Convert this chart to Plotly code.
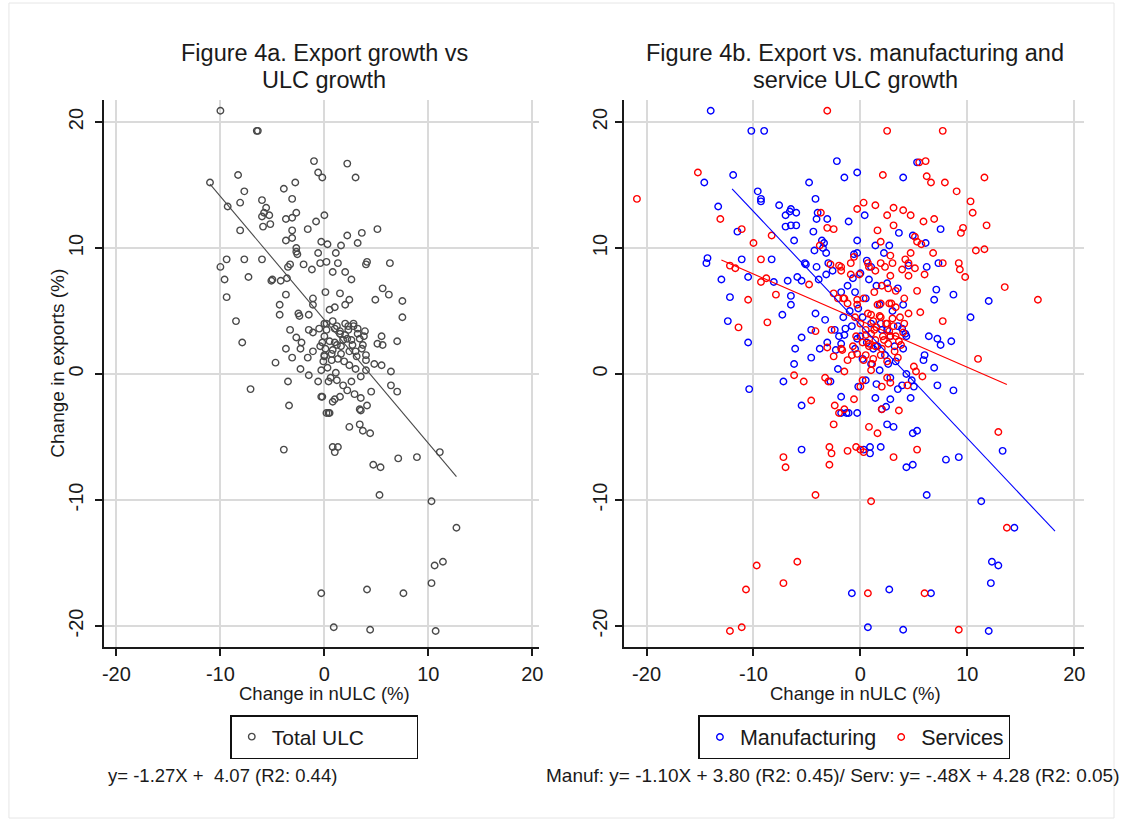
import plotly.graph_objects as go

# ---------------- data ----------------
total_points = [
    (-10.0, 20.9), (-6.5, 19.3), (-6.4, 19.3), (-1.0, 16.9), (-0.6, 16.0), (-0.2, 15.6),
    (-11.0, 15.2), (-8.3, 15.8), (-7.7, 14.5), (-8.1, 13.6), (-9.3, 13.3), (-3.9, 14.7),
    (-2.8, 15.2), (-3.1, 13.9), (-6.0, 13.8), (-5.6, 13.2), (-5.8, 12.8), (-6.0, 12.5),
    (-5.3, 12.6), (-3.7, 12.3), (-3.1, 12.4), (-2.7, 12.8), (-5.2, 11.9), (-5.9, 11.7),
    (-8.1, 11.4), (-3.1, 11.4), (-1.6, 11.5), (-0.8, 12.1), (0.0, 12.6), (-3.7, 10.6),
    (-3.1, 10.8), (-2.7, 10.0), (-2.7, 9.7), (-2.6, 9.5), (-0.6, 9.6), (-0.3, 10.5),
    (0.3, 10.3), (-10.0, 8.5), (-9.4, 9.1), (-7.7, 9.1), (-6.0, 9.1), (-3.5, 8.5),
    (-3.3, 8.7), (-2.0, 8.7), (-1.2, 8.3), (-0.4, 8.8), (0.2, 8.9),
    (2.2, 16.7), (3.0, 15.6), (5.1, 11.5), (3.6, 11.2), (2.2, 11.0), (3.2, 10.4),
    (1.6, 10.2), (1.1, 9.6), (6.3, 8.8), (4.0, 8.7), (4.1, 8.9), (1.3, 8.8),
    (2.0, 8.1), (2.6, 7.5), (0.8, 8.1), (0.1, 6.5), (5.6, 6.8), (6.2, 6.3), (4.9, 5.9),
    (7.5, 5.8), (7.5, 4.5), (1.5, 6.4), (2.4, 5.9), (2.0, 5.5), (1.0, 5.3), (0.5, 5.1),
    (5.5, 3.0), (5.6, 2.3), (5.1, 2.4), (7.0, 2.6), (5.5, 0.7), (6.4, 0.2), (4.8, 0.8),
    (6.4, -0.9), (7.0, -1.4), (4.5, -1.4), (0.6, -0.3), (1.2, -0.5), (1.8, -0.9),
    (2.6, -0.6), (1.0, -2.0), (1.5, -1.8), (0.8, -2.2), (3.4, -2.8), (3.5, -2.9),
    (0.4, -3.1), (0.5, -3.1), (-0.2, -1.8), (2.4, -4.2), (3.4, -4.0), (3.7, -4.5),
    (4.4, -4.7), (0.8, -5.8), (1.3, -5.8), (1.0, -6.2), (7.1, -6.7), (8.9, -6.6),
    (11.1, -6.2), (-3.9, -6.0), (4.7, -7.2), (5.4, -7.4), (5.3, -9.6), (10.3, -10.1),
    (12.7, -12.2), (11.4, -14.9), (10.6, -15.2), (10.3, -16.6), (-0.3, -17.4),
    (4.1, -17.1), (7.6, -17.4), (0.9, -20.1), (4.4, -20.3), (10.7, -20.4),
    (-9.6, 7.5), (-7.3, 7.7), (-5.1, 7.4), (-5.0, 7.5), (-4.2, 7.4), (-3.6, 7.6),
    (-9.4, 6.1), (-3.7, 6.3), (-4.3, 5.5), (-4.3, 4.7), (-8.5, 4.2), (-2.5, 4.8),
    (-2.4, 4.6), (-1.5, 4.7), (-1.1, 5.5), (-1.1, 6.0), (-7.9, 2.5), (-3.3, 3.5),
    (-2.7, 2.9), (-2.2, 2.5), (-1.5, 3.5), (-1.1, 3.3), (-3.7, 2.0), (-3.1, 1.3),
    (-2.3, 2.0), (-1.6, 1.3), (-1.1, 1.8), (-4.7, 0.9), (-2.3, 0.4), (-1.5, -0.1),
    (-0.6, -0.6), (-3.5, -0.6), (-7.1, -1.2), (-0.3, -1.8), (-3.4, -2.5), (0.2, -3.1),
    (0.0, 4.0), (0.2, 3.5), (0.0, 3.0), (-0.2, 2.5), (0.1, 2.0), (0.0, 1.5), (-0.1, 1.0),
    (0.3, 0.5), (0.8, 4.2), (1.2, 3.8), (1.5, 3.2), (2.0, 4.0), (2.3, 3.5), (2.8, 3.8),
    (3.2, 3.2), (3.8, 3.0), (1.0, 2.5), (1.6, 2.2), (2.2, 2.8), (2.7, 2.3), (3.0, 1.8),
    (3.6, 2.0), (4.0, 1.5), (0.7, 1.6), (1.3, 1.2), (1.9, 1.0), (2.4, 0.7), (3.0, 0.4),
    (3.5, -0.2), (4.0, 0.3), (1.1, 0.1), (0.4, -0.6), (2.2, -1.3), (2.9, -1.6),
    (3.5, -1.9), (4.1, -2.5),
    (0.2, 4.0), (1.0, 3.6), (1.5, 3.4), (2.0, 3.1), (2.8, 4.0), (2.3, 3.8), (3.2, 3.6),
    (3.9, 3.4), (0.5, 2.6), (1.2, 2.3), (1.8, 2.7), (2.6, 2.7), (3.4, 2.8), (3.7, 2.3),
    (0.8, 1.9), (1.6, 1.6), (2.4, 1.8), (3.1, 1.4), (4.0, 1.1), (0.7, 1.1), (0.0, 1.4),
    (-0.4, 2.2), (-0.5, 3.6), (-0.3, 0.3),
]

manuf_points = [
    (-14.0, 20.9), (-10.2, 19.3), (-9.0, 19.3), (-2.2, 16.9), (-1.5, 15.6), (-11.9, 15.8),
    (-14.6, 15.2), (-9.6, 14.5), (-9.3, 13.7), (-9.3, 13.9), (-13.3, 13.3), (-7.6, 13.4),
    (-6.5, 13.1), (-7.0, 12.6), (-6.0, 12.8), (-6.6, 12.9), (-4.8, 15.2), (-4.2, 13.9),
    (-4.0, 12.8), (-4.1, 12.3), (-3.1, 12.3), (-7.0, 11.7), (-6.5, 11.8), (-6.0, 11.8),
    (-11.5, 11.3), (-4.4, 11.3), (-6.2, 10.6), (-3.6, 10.6), (-3.4, 10.4), (-4.3, 9.8),
    (-3.2, 9.6), (-3.5, 10.0), (-14.3, 9.2), (-14.4, 8.8), (-11.1, 9.1), (-8.3, 9.1),
    (-5.2, 8.8), (-5.1, 8.7), (-4.1, 8.5),
    (5.3, 16.8), (-0.3, 16.0), (4.0, 15.6), (0.4, 12.6), (-1.1, 12.1), (7.5, 11.5),
    (3.6, 11.2), (4.9, 11.0), (6.1, 10.4), (-0.3, 10.6), (1.4, 10.2), (2.7, 10.2),
    (-0.6, 9.5), (-0.3, 9.6), (2.2, 9.6), (7.3, 8.8), (6.2, 8.5), (4.5, 8.6),
    (-13.0, 7.5), (-10.5, 7.7), (-8.1, 7.3), (-6.8, 7.4), (-5.9, 7.7), (-5.5, 7.4),
    (-12.2, 6.1), (-6.5, 6.2), (-6.5, 5.5), (-7.3, 4.7), (-12.4, 4.2), (-4.2, 4.8),
    (-3.3, 4.3), (-4.6, 3.5), (-5.5, 2.9), (-10.5, 2.5), (-6.1, 2.0), (-4.6, 1.3),
    (-3.8, 2.0), (-3.1, 2.5), (-6.2, 0.8), (-7.2, -0.6), (-10.4, -1.2), (-5.5, -2.5),
    (-5.5, -6.0), (-1.8, -1.8), (-2.8, -0.6), (-2.1, 0.4), (-1.3, -3.1), (-2.4, 3.5),
    (-1.5, 3.1), (-1.8, 2.4), (-2.3, 1.9), (-3.9, 7.5), (-3.2, 7.9), (-2.6, 8.2),
    (-3.0, 8.8),
    (12.0, 5.8), (10.3, 4.5), (8.7, 6.3), (7.1, 6.7), (6.9, 5.9), (6.4, 3.0), (7.2, 2.8),
    (7.5, 2.3), (8.5, 2.6), (6.9, 0.5), (5.9, 1.1), (6.0, 1.5), (7.2, -0.9), (8.7, -1.3),
    (4.8, -0.5), (5.0, -1.0), (4.7, -1.9), (4.3, 0.0), (3.9, -0.9), (2.8, -2.0),
    (2.4, -2.6), (1.4, -1.9), (2.0, -2.8), (2.5, -4.0), (3.1, -4.2), (4.9, -4.7),
    (5.3, -4.5), (1.9, -5.8), (-1.8, -3.1), (-1.1, -3.1), (-0.3, -3.1),
    (0.3, -6.0), (0.9, -5.8), (0.9, -6.3), (4.3, -7.4), (4.9, -7.2), (8.0, -6.8),
    (9.2, -6.6), (13.3, -6.1), (6.2, -9.6), (11.3, -10.1), (14.4, -12.2), (12.3, -14.9),
    (12.9, -15.2), (12.2, -16.6), (-0.8, -17.4), (2.7, -17.1), (6.6, -17.4),
    (0.7, -20.1), (4.0, -20.3), (12.0, -20.4),
    (0.0, 8.0), (0.8, 7.5), (1.5, 7.0), (2.5, 7.2), (3.5, 6.8), (-0.5, 6.5), (0.5, 6.0),
    (1.8, 5.5), (3.0, 5.0), (4.0, 5.5), (-1.0, 5.0), (0.2, 4.5), (1.0, 4.0), (2.0, 3.5),
    (2.8, 3.0), (3.5, 3.8), (4.3, 3.0), (-0.8, 3.8), (0.0, 3.0), (0.6, 2.5), (1.2, 2.0),
    (2.3, 1.5), (3.2, 2.2), (4.0, 2.0), (-0.5, 2.0), (0.2, 1.2), (1.0, 0.8), (1.8, 0.3),
    (2.6, 0.8), (3.3, 1.0), (0.5, -0.5), (1.5, -0.8), (2.8, -0.3), (3.5, -1.2),
    (-0.2, -1.0),
    (1.9, 4.0), (2.5, 3.5), (3.9, 3.6), (4.2, 3.2), (1.6, 2.2), (-0.3, 2.8), (-1.4, 3.6),
    (-2.0, 3.0), (-1.2, 7.0), (-0.7, 7.6), (-1.8, 6.5), (-0.2, 5.2), (0.6, 9.0),
    (1.0, 8.5), (-1.6, 4.5),
]

serv_points = [
    (-3.1, 20.9), (-15.2, 16.0), (-20.9, 13.9), (-13.1, 12.3), (-11.1, 11.5), (-8.3, 11.0),
    (-10.0, 10.4), (-9.3, 9.1), (-3.7, 12.8), (-3.1, 11.6), (-2.5, 11.5), (-3.8, 10.2),
    (-2.8, 8.7), (-1.8, 8.5), (-12.2, 8.6), (-11.7, 8.4),
    (2.5, 19.3), (7.7, 19.3), (6.1, 16.9), (5.5, 16.8), (2.1, 15.8), (6.2, 15.7),
    (6.6, 15.2), (7.9, 15.2), (9.0, 14.5), (11.6, 15.6), (10.3, 13.7), (10.5, 12.8),
    (11.8, 11.8), (9.6, 11.6), (9.4, 11.2), (10.8, 9.8), (11.6, 9.9), (0.3, 13.6),
    (-0.3, 13.1), (1.4, 13.4), (3.1, 13.2), (4.0, 13.0), (4.7, 12.6), (2.5, 12.6),
    (5.9, 12.1), (6.9, 12.3), (3.1, 11.8), (1.6, 11.4), (5.1, 10.9), (5.3, 10.5),
    (5.7, 10.3), (1.9, 10.5), (6.8, 9.6), (4.7, 9.6), (4.2, 9.1), (4.5, 8.8), (2.8, 9.4),
    (3.0, 8.8), (-0.6, 9.3), (-0.9, 8.8), (0.7, 8.8), (1.9, 8.8), (7.7, 8.8), (9.2, 8.8),
    (-2.0, 8.6),
    (-9.3, 7.3), (-8.8, 7.6), (-10.5, 5.9), (-7.9, 6.3), (-11.4, 3.7), (-8.7, 4.1),
    (-4.8, 7.1), (-4.2, 3.4), (-2.7, 3.5), (-3.1, 2.1), (-2.5, 1.4), (-1.8, 2.0),
    (-6.2, -0.1), (-5.3, -0.6), (-3.3, -0.3), (-3.0, -0.6), (-4.6, -2.1), (-2.4, -2.5),
    (-2.0, -3.1), (-2.5, -4.0), (-2.9, -5.8), (-2.7, -6.3), (-7.2, -6.6), (-2.5, 6.4),
    (-1.6, 6.0),
    (13.5, 6.9), (16.6, 5.9), (7.7, 4.2), (11.0, 1.2), (5.6, 4.9), (5.3, 6.6), (9.3, 8.3),
    (9.8, 7.7), (12.9, -4.6), (5.3, -6.0), (3.1, -6.6), (0.8, -4.2), (1.6, -4.7),
    (-1.2, -6.1), (-0.4, -5.8), (0.0, -6.0), (0.3, -6.2), (-0.6, -2.0), (-1.5, -2.8),
    (2.0, -2.8), (3.6, -2.9), (4.4, -0.9), (5.2, 0.2), (5.8, -0.2), (5.0, 0.6),
    (2.5, -0.3), (2.8, -0.7), (2.0, -1.0), (0.0, -1.0), (0.2, -0.5), (1.0, 0.3),
    (-1.5, 0.2), (3.7, 4.5), (4.5, 4.8), (4.1, 4.0), (2.0, 7.0), (2.6, 6.8), (3.3, 6.6),
    (2.8, 7.8), (3.9, 8.3), (4.5, 7.8), (5.1, 8.4), (6.0, 7.9), (-1.5, 6.0), (-2.1, 6.0),
    (0.3, 6.0), (-0.3, 5.5), (-1.8, 8.2), (-0.9, 7.9), (-0.1, 7.9), (0.8, 8.5),
    (1.4, 8.2), (2.3, 8.5),
    (-7.0, -7.4), (-2.9, -7.2), (-4.2, -9.6), (1.0, -10.1), (13.7, -12.2), (-9.7, -15.2),
    (-5.9, -14.9), (-10.7, -17.1), (-7.2, -16.6), (0.7, -17.4), (6.0, -17.4),
    (-12.2, -20.4), (-11.1, -20.1), (9.2, -20.3),
    (0.7, 4.8), (1.2, 4.2), (1.8, 4.6), (2.4, 4.0), (3.0, 4.4), (0.5, 3.5), (1.0, 3.2),
    (1.5, 3.7), (2.1, 3.0), (2.7, 3.4), (3.3, 3.0), (4.0, 3.3), (0.2, 2.5), (0.8, 2.2),
    (1.4, 2.7), (2.0, 2.0), (2.6, 2.4), (3.2, 1.8), (3.8, 2.3), (0.5, 1.5), (1.2, 1.2),
    (1.9, 1.5), (2.5, 1.0), (3.5, 1.3), (-0.4, 3.0), (-0.8, 1.5), (0.0, 4.0),
    (-0.5, 4.5), (1.6, 5.5), (2.9, 5.6), (4.1, 6.0),
    (-0.3, 5.9), (-1.2, 5.6), (1.3, 6.5), (1.9, 5.6), (2.7, 5.6), (3.3, 5.3), (1.0, 4.7),
    (1.9, 4.5), (2.5, 4.0), (3.1, 3.8), (1.3, 3.5), (0.5, 3.1), (0.8, 2.4), (1.4, 2.2),
    (2.2, 2.7), (2.8, 3.0), (3.6, 2.6), (-0.3, 1.6), (0.3, 1.1), (1.1, 0.8), (-1.2, 1.1),
    (-1.7, 1.9), (-0.7, 2.2),
]

# fitted lines as drawn: slope, intercept, x-span
fit_total = {"slope": -0.98, "intercept": 4.3, "x_from": -11.0, "x_to": 12.7}
fit_manuf = {"slope": -0.90, "intercept": 3.9, "x_from": -12.0, "x_to": 18.2}
fit_serv = {"slope": -0.37, "intercept": 4.24, "x_from": -13.0, "x_to": 13.7}

tick_vals = [-20, -10, 0, 10, 20]
tick_text = ["-20", "-10", "0", "10", "20"]

titles = [["Figure 4a. Export growth vs", "ULC growth"],
          ["Figure 4b. Export vs. manufacturing and", "service ULC growth"]]
x_title = "Change in nULC (%)"
y_title = "Change in exports (%)"
series_names = ["Total ULC", "Manufacturing", "Services"]
notes = ["y= -1.27X +  4.07 (R2: 0.44)",
         "Manuf: y= -1.10X + 3.80 (R2: 0.45)/ Serv: y= -.48X + 4.28 (R2: 0.05)"]

# ---------------- figure ----------------
W, H = 1125, 821
FONT = "Arial, Liberation Sans, sans-serif"


def px_x(p):
    return p / W


def px_y(p):
    return 1 - p / H


def line_pts(fit):
    xs = [fit["x_from"], fit["x_to"]]
    return xs, [fit["intercept"] + fit["slope"] * x for x in xs]


def unzip(pts):
    return [p[0] for p in pts], [p[1] for p in pts]


fig = go.Figure()

tx, ty = unzip(total_points)
mx, my = unzip(manuf_points)
sx, sy = unzip(serv_points)

marker_common = dict(symbol="circle-open", size=6.5)

fig.add_trace(go.Scatter(x=tx, y=ty, mode="markers", name=series_names[0],
                         marker=dict(**marker_common, color="#4a4a4a", line=dict(width=1.4, color="#4a4a4a")),
                         xaxis="x", yaxis="y", legend="legend"))
lx, ly = line_pts(fit_total)
fig.add_trace(go.Scatter(x=lx, y=ly, mode="lines", line=dict(color="#4a4a4a", width=1.1),
                         showlegend=False, xaxis="x", yaxis="y"))

fig.add_trace(go.Scatter(x=mx, y=my, mode="markers", name=series_names[1],
                         marker=dict(**marker_common, color="#0000ff", line=dict(width=1.4, color="#0000ff")),
                         xaxis="x2", yaxis="y2", legend="legend2"))
fig.add_trace(go.Scatter(x=sx, y=sy, mode="markers", name=series_names[2],
                         marker=dict(**marker_common, color="#ff0000", line=dict(width=1.4, color="#ff0000")),
                         xaxis="x2", yaxis="y2", legend="legend2"))
lx, ly = line_pts(fit_manuf)
fig.add_trace(go.Scatter(x=lx, y=ly, mode="lines", line=dict(color="#0000ff", width=1.1),
                         showlegend=False, xaxis="x2", yaxis="y2"))
lx, ly = line_pts(fit_serv)
fig.add_trace(go.Scatter(x=lx, y=ly, mode="lines", line=dict(color="#ff0000", width=1.1),
                         showlegend=False, xaxis="x2", yaxis="y2"))

axis_common = dict(
    tickvals=tick_vals, ticktext=tick_text, showgrid=True, gridcolor="#dadada", gridwidth=2,
    zeroline=False, showline=True, linecolor="#1a1a1a", linewidth=2, ticks="outside",
    ticklen=7, tickwidth=2, tickcolor="#1a1a1a", mirror=False,
    tickfont=dict(family=FONT, size=20, color="#1a1a1a"),
)

y_dom = [px_y(647), px_y(100)]
fig.update_layout(
    width=W, height=H, margin=dict(l=0, r=0, t=0, b=0),
    paper_bgcolor="white", plot_bgcolor="white",
    font=dict(family=FONT, color="#1a1a1a"),
    xaxis=dict(domain=[px_x(103), px_x(540)], range=[-21.15, 20.65], anchor="y",
               ticklabelstandoff=1, **axis_common),
    yaxis=dict(domain=y_dom, range=[-21.67, 21.75], anchor="x", tickangle=-90,
               ticklabelstandoff=4, **axis_common),
    xaxis2=dict(domain=[px_x(625), px_x(1088)], range=[-22.14, 20.93], anchor="y2",
                ticklabelstandoff=1, **axis_common),
    yaxis2=dict(domain=y_dom, range=[-21.67, 21.75], anchor="x2", tickangle=-90,
                ticklabelstandoff=0, **axis_common),
    legend=dict(x=px_x(324), y=px_y(737), xanchor="center", yanchor="middle",
                orientation="h", bordercolor="#111", borderwidth=1.5, bgcolor="white",
                font=dict(family=FONT, size=21, color="#1a1a1a"), itemsizing="trace",
                entrywidth=140, entrywidthmode="pixels"),
    legend2=dict(x=px_x(857), y=px_y(737), xanchor="center", yanchor="middle",
                 orientation="h", bordercolor="#111", borderwidth=1.5, bgcolor="white",
                 font=dict(family=FONT, size=21.5, color="#1a1a1a"), itemsizing="trace"),
    showlegend=True,
)

ann = []
title_cx = [324, 858]
for cx, (l1, l2) in zip(title_cx, titles):
    ann.append(dict(text=l1, x=px_x(cx), y=px_y(53), xref="paper", yref="paper",
                    xanchor="center", yanchor="middle", showarrow=False,
                    font=dict(family=FONT, size=23.5, color="#1a1a1a")))
    ann.append(dict(text=l2, x=px_x(cx), y=px_y(80), xref="paper", yref="paper",
                    xanchor="center", yanchor="middle", showarrow=False,
                    font=dict(family=FONT, size=23.5, color="#1a1a1a")))
for cx in [324, 858]:
    ann.append(dict(text=x_title, x=px_x(cx), y=px_y(693), xref="paper", yref="paper",
                    xanchor="center", yanchor="middle", showarrow=False,
                    font=dict(family=FONT, size=18.5, color="#1a1a1a")))
ann.append(dict(text=y_title, x=px_x(55), y=px_y(363), xref="paper", yref="paper",
                xanchor="center", yanchor="middle", showarrow=False, textangle=-90,
                font=dict(family=FONT, size=19, color="#1a1a1a")))
ann.append(dict(text=notes[0], x=px_x(105), y=px_y(775), xref="paper", yref="paper",
                xanchor="left", yanchor="middle", showarrow=False,
                font=dict(family=FONT, size=18.5, color="#1a1a1a")))
ann.append(dict(text=notes[1], x=px_x(545), y=px_y(775), xref="paper", yref="paper",
                xanchor="left", yanchor="middle", showarrow=False,
                font=dict(family=FONT, size=19, color="#1a1a1a")))
fig.update_layout(annotations=ann)

fig.add_shape(type="rect", xref="paper", yref="paper",
              x0=px_x(7), x1=px_x(1118), y0=px_y(818), y1=px_y(3),
              line=dict(color="#e6e6e6", width=1), layer="below")

fig.write_html("out.html")
